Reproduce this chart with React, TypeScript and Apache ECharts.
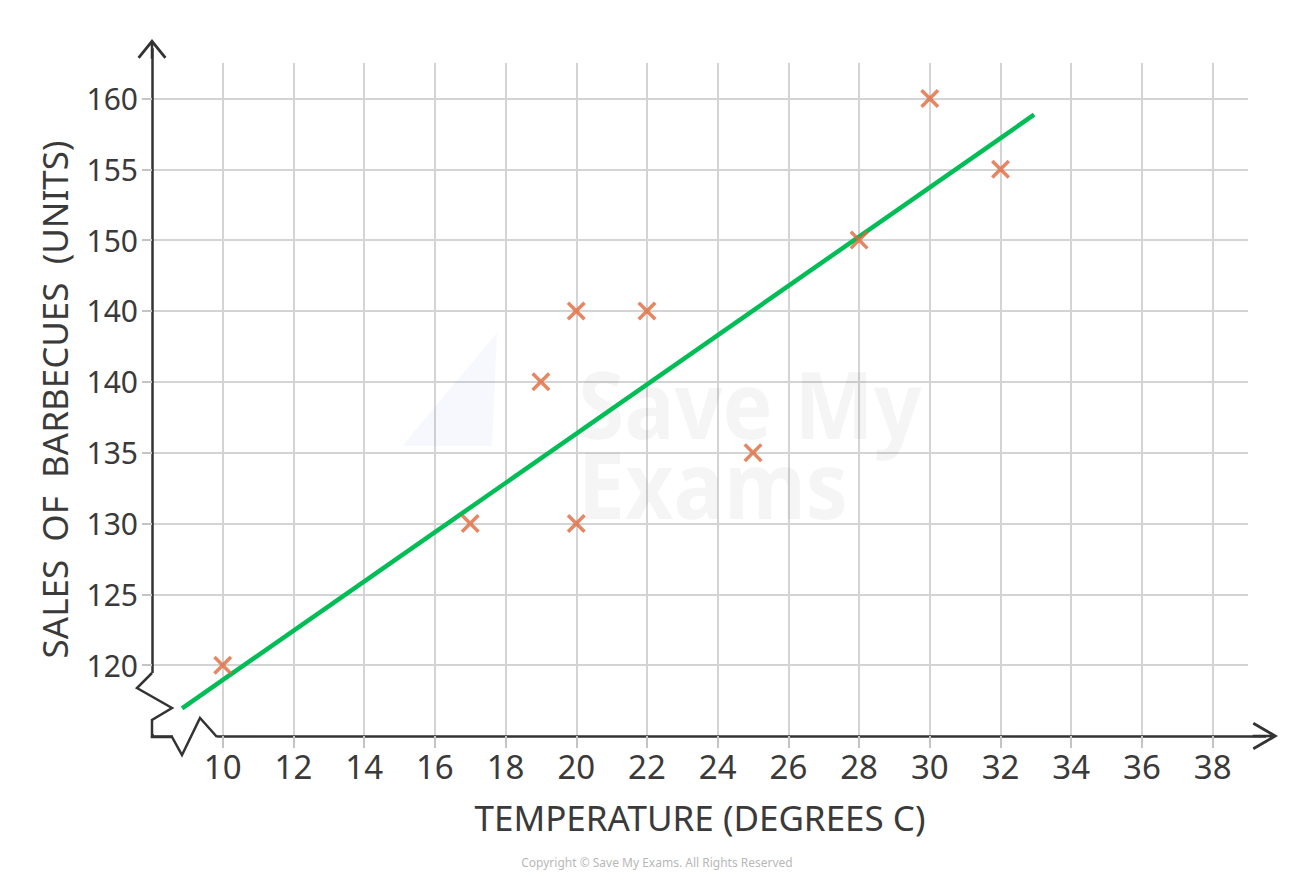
import React, { useEffect, useRef } from "react";
import * as echarts from "echarts";

// ---- data ----
const temperatures = [10, 17, 19, 20, 20, 22, 25, 28, 30, 32];
const sales = [120, 130, 140, 145, 130, 145, 135, 150, 160, 155];

// line of best fit (end points)
const fitTemperature = [8.85, 32.95];
const fitSales = [116.95, 158.85];

// tick labels
const xTickValues = [10, 12, 14, 16, 18, 20, 22, 24, 26, 28, 30, 32, 34, 36, 38];
const yTickValues = [120, 125, 130, 135, 140, 145, 150, 155, 160];
const yTickLabels = ["120", "125", "130", "135", "140", "140", "150", "155", "160"];

const xName = "TEMPERATURE (DEGREES C)";
const yName = "SALES  OF  BARBECUES  (UNITS)";
const watermark = "Save My\nExams";
const copyright = "Copyright © Save My Exams. All Rights Reserved";

const CROSS =
  "path://M0,1.3L1.3,0L5,3.7L8.7,0L10,1.3L6.3,5L10,8.7L8.7,10L5,6.3L1.3,10L0,8.7L3.7,5Z";
// open chevron arrow heads (pointing "up" in symbol space) with a stem
const ARROW_Y =
  "path://M14.5,0L29,18L26.8,19.8L14.5,4.46L2.2,19.8L0,18ZM13.25,2L15.75,2L15.75,19.8L13.25,19.8Z";
const ARROW_X =
  "path://M14,0L28,24L25.6,25.4L14,5.56L2.4,25.4L0,24ZM12.75,2L15.25,2L15.25,25.4L12.75,25.4Z";

const FONT = "Noto Sans";
const TEXT = "#3a3a3a";
const AXIS = "#333333";

export default function App() {
  const ref = useRef<HTMLDivElement>(null);

  useEffect(() => {
    if (!ref.current) return;
    const chart = echarts.init(ref.current, undefined, { renderer: "svg" });

    const option: any = {
      animation: false,
      backgroundColor: "#ffffff",
      textStyle: { fontFamily: FONT },
      grid: [
        { left: 152, top: 63, width: 1096, height: 673 },
        { left: 152, top: 48.9, width: 1113.3, height: 687.1 },
      ],
      xAxis: [
        {
          type: "value",
          gridIndex: 0,
          min: 8,
          max: 39,
          interval: 1,
          name: xName,
          nameLocation: "middle",
          nameGap: 64,
          nameTextStyle: { fontSize: 35, color: TEXT, fontFamily: FONT },
          axisLine: { show: false },
          axisTick: {
            show: true,
            customValues: xTickValues,
            length: 12,
            lineStyle: { color: "#c4c4c4", width: 2 },
          },
          axisLabel: {
            customValues: xTickValues,
            fontSize: 33,
            margin: 14,
            color: TEXT,
            fontFamily: FONT,
          },
          splitLine: { show: true, lineStyle: { color: "#d4d4d4", width: 2 } },
        },
        {
          type: "value",
          gridIndex: 1,
          min: 0,
          max: 1,
          axisLine: {
            show: true,
            symbol: ["none", ARROW_X],
            symbolSize: [28, 25.4],
            lineStyle: { color: AXIS, width: 2.5 },
          },
          axisTick: { show: false },
          axisLabel: { show: false },
          splitLine: { show: false },
        },
      ],
      yAxis: [
        {
          type: "value",
          gridIndex: 0,
          min: 115,
          max: 162.5,
          interval: 2.5,
          name: yName,
          nameLocation: "middle",
          nameRotate: 90,
          nameGap: 80,
          nameTextStyle: { fontSize: 35, color: TEXT, fontFamily: FONT },
          axisLine: { show: false },
          axisTick: {
            show: true,
            customValues: yTickValues,
            length: 10,
            lineStyle: { color: "#c4c4c4", width: 2 },
          },
          axisLabel: {
            customValues: yTickValues,
            fontSize: 30,
            margin: 14,
            color: TEXT,
            fontFamily: FONT,
            formatter: (v: number) => {
              const i = yTickValues.indexOf(v);
              return i >= 0 ? yTickLabels[i] : "";
            },
          },
          splitLine: { show: true, lineStyle: { color: "#d4d4d4", width: 2 } },
        },
        {
          type: "value",
          gridIndex: 1,
          min: 0,
          max: 1,
          axisLine: {
            show: true,
            symbol: ["none", ARROW_Y],
            symbolSize: [29, 19.8],
            lineStyle: { color: AXIS, width: 2.5 },
          },
          axisTick: { show: false },
          axisLabel: { show: false },
          splitLine: { show: false },
        },
      ],
      series: [
        {
          type: "line",
          xAxisIndex: 0,
          yAxisIndex: 0,
          data: fitTemperature.map((t, i) => [t, fitSales[i]]),
          showSymbol: false,
          symbol: "none",
          lineStyle: { color: "#00BE55", width: 4.5 },
          z: 3,
        },
        {
          type: "scatter",
          xAxisIndex: 0,
          yAxisIndex: 0,
          data: temperatures.map((t, i) => [t, sales[i]]),
          symbol: CROSS,
          symbolSize: 19,
          itemStyle: { color: "#E0683B" },
          z: 4,
        },
      ],
      graphic: [
        {
          type: "polygon",
          z: 1,
          silent: true,
          shape: { points: [[497, 333], [402, 446], [492, 446]] },
          style: { fill: "rgba(90,110,230,0.05)" },
        },
        {
          type: "text",
          z: 1,
          silent: true,
          x: 578,
          y: 362,
          scaleY: 1.12,
          style: {
            text: watermark,
            fontSize: 84,
            lineHeight: 72,
            fontWeight: "bold",
            fontFamily: FONT,
            fill: "rgba(0,0,0,0.04)",
            verticalAlign: "top",
          },
        },
        {
          type: "rect",
          z: 50,
          silent: true,
          shape: { x: 145, y: 673, width: 13, height: 61 },
          style: { fill: "#ffffff" },
        },
        {
          type: "rect",
          z: 50,
          silent: true,
          shape: { x: 173, y: 732, width: 44, height: 10 },
          style: { fill: "#ffffff" },
        },
        {
          type: "polyline",
          z: 51,
          silent: true,
          shape: {
            points: [
              [152, 673],
              [137, 688],
              [172, 708],
              [152, 720],
              [152, 737],
              [172, 737],
              [182, 755],
              [200, 718],
              [217, 737],
            ],
          },
          style: { stroke: AXIS, lineWidth: 2.5, fill: "none", lineJoin: "miter" },
        },
        {
          type: "text",
          z: 51,
          silent: true,
          x: 657,
          y: 862,
          style: {
            text: copyright,
            fontSize: 12,
            fontFamily: FONT,
            fill: "#b8b8b8",
            align: "center",
            verticalAlign: "middle",
          },
        },
      ],
    };

    chart.setOption(option);
    return () => chart.dispose();
  }, []);

  return (
    <div
      ref={ref}
      style={{
        position: "fixed",
        left: 0,
        top: 0,
        width: 1312,
        height: 883,
        background: "#ffffff",
      }}
    />
  );
}
